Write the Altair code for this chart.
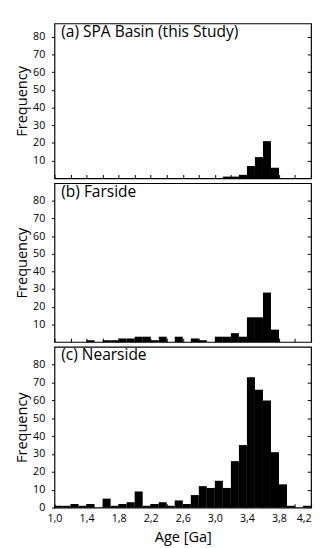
import altair as alt
import pandas as pd

FONT = "Open Sans"

# Histogram bins (Age in Ga, 0.1 Ga wide)
bin_start = [1.0, 1.1, 1.2, 1.3, 1.4, 1.5, 1.6, 1.7, 1.8, 1.9, 2.0, 2.1, 2.2, 2.3, 2.4, 2.5,
             2.6, 2.7, 2.8, 2.9, 3.0, 3.1, 3.2, 3.3, 3.4, 3.5, 3.6, 3.7, 3.8, 3.9, 4.0, 4.1]
bin_end = [1.1, 1.2, 1.3, 1.4, 1.5, 1.6, 1.7, 1.8, 1.9, 2.0, 2.1, 2.2, 2.3, 2.4, 2.5, 2.6,
           2.7, 2.8, 2.9, 3.0, 3.1, 3.2, 3.3, 3.4, 3.5, 3.6, 3.7, 3.8, 3.9, 4.0, 4.1, 4.2]

spa_counts = [0, 0, 0, 0, 0, 0, 0, 0, 0, 0, 0, 0, 0, 0, 0, 0,
              0, 0, 0, 0, 0, 1, 1, 2, 7, 12, 21, 6, 0, 0, 0, 0]
far_counts = [0, 0, 0, 0, 1, 0, 1, 1, 2, 2, 3, 3, 1, 3, 0, 3,
              0, 2, 1, 0, 3, 3, 5, 3, 14, 14, 28, 7, 0, 0, 0, 0]
near_counts = [1, 1, 2, 1, 2, 0, 5, 1, 2, 3, 9, 1, 2, 3, 1, 4,
               2, 7, 12, 11, 15, 11, 26, 35, 73, 66, 60, 31, 13, 1, 0, 1]

panel_titles = ["(a) SPA Basin (this Study)", "(b) Farside", "(c) Nearside"]

x_tick_values = [1.0, 1.2, 1.4, 1.6, 1.8, 2.0, 2.2, 2.4, 2.6, 2.8, 3.0, 3.2, 3.4, 3.6, 3.8, 4.0, 4.2]
x_label_values = [1.0, 1.4, 1.8, 2.2, 2.6, 3.0, 3.4, 3.8, 4.2]
y_values_nozero = [10, 20, 30, 40, 50, 60, 70, 80]
y_values_zero = [0, 10, 20, 30, 40, 50, 60, 70, 80]

x_scale = alt.Scale(domain=[1.0, 4.2], nice=False, zero=False)


def inner_x_ticks():
    return alt.Axis(orient="bottom", values=x_tick_values, labels=False, tickSize=4,
                    offset=-4, domain=False, title=None, tickColor="black", tickWidth=1)


def panel(counts, title, ymax, height, show_zero, bottom):
    df = pd.DataFrame({"start": bin_start, "end": bin_end, "count": counts})
    y_scale = alt.Scale(domain=[0, ymax], nice=False, zero=True)

    if bottom:
        main_x_axis = alt.Axis(orient="bottom", values=x_label_values, tickSize=0,
                               labelPadding=5, title="Age [Ga]", titlePadding=7,
                               labelFlush=False,
                               labelAlign={"condition": {"test": "datum.value > 4.15", "value": "right"},
                                           "value": "center"},
                               labelExpr="replace(format(datum.value, '.1f'), '.', ',')",
                               labelFontSize=11, titleFontSize=15)
    else:
        main_x_axis = inner_x_ticks()

    left_y_axis = alt.Axis(orient="left", values=(y_values_zero if show_zero else y_values_nozero),
                           tickSize=3, labelPadding=7, title="Frequency", titlePadding=3,
                           labelFontSize=11, titleFontSize=15)
    right_y_axis = alt.Axis(orient="right", values=y_values_nozero, labels=False, tickSize=4,
                            offset=-4, title=None, domain=False)

    bars = alt.Chart(df).mark_bar(color="black", stroke=None).encode(
        x=alt.X("start:Q", scale=x_scale, axis=main_x_axis),
        x2="end:Q",
        y=alt.Y("count:Q", scale=y_scale, axis=left_y_axis),
        y2=alt.datum(0),
    )

    ghost_enc = dict(
        y=alt.Y("count:Q", scale=y_scale, axis=right_y_axis),
    )
    if bottom:
        ghost_enc["x"] = alt.X("start:Q", scale=x_scale, axis=inner_x_ticks())
    else:
        ghost_enc["x"] = alt.X("start:Q", scale=x_scale, axis=None)
    ghost = alt.Chart(df).mark_point(opacity=0).encode(**ghost_enc)

    label = alt.Chart(pd.DataFrame({"label": [title]})).mark_text(
        align="left", baseline="top", font=FONT, fontSize=16, color="black"
    ).encode(x=alt.value(7), y=alt.value(1), text="label:N")

    return alt.layer(bars, ghost, label).resolve_axis(
        x="independent", y="independent"
    ).properties(width=265, height=height)


a = panel(spa_counts, panel_titles[0], 87.5, 160, False, False)
b = panel(far_counts, panel_titles[1], 90, 164, False, False)
c = panel(near_counts, panel_titles[2], 90, 166, True, True)

chart = alt.vconcat(a, b, c, spacing=0).properties(
    padding={"left": 6, "top": 6, "right": 0, "bottom": 0}
).configure_view(
    stroke="black", strokeWidth=1.2
).configure_axis(
    labelFont=FONT, titleFont=FONT, domain=False, grid=False,
    tickColor="black", labelColor="black", titleColor="black",
    titleFontWeight="normal"
)

chart.save("out.html", embed_options={"renderer": "svg", "actions": False})
